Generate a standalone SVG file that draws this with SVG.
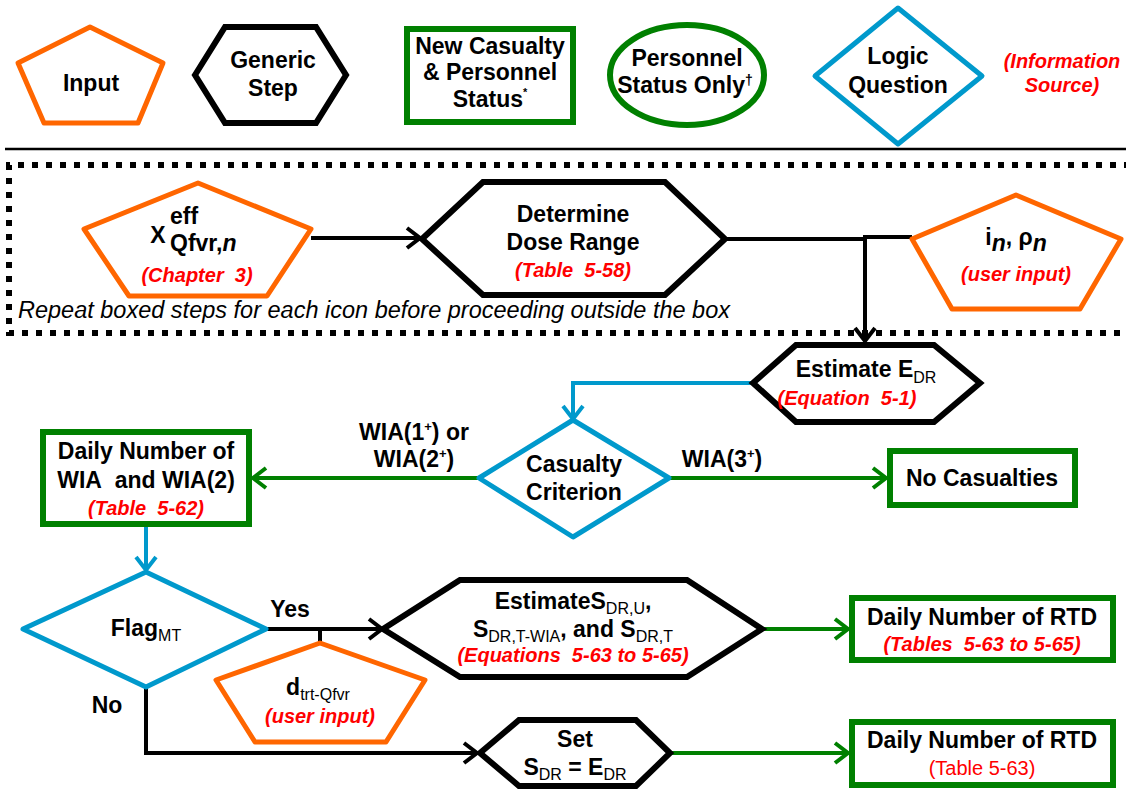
<svg xmlns="http://www.w3.org/2000/svg" width="1126" height="792" viewBox="0 0 1126 792">
<style>
text{font-family:"Liberation Sans",Arial,sans-serif;font-size:23px;font-weight:bold;fill:#000;text-anchor:middle}
.reg{font-weight:normal}
.red{fill:#FF0000;font-style:italic;font-size:20px}
.sub{font-size:16px;font-weight:normal}
.inp{fill:#fff;stroke:#FF6600;stroke-width:5;stroke-linejoin:round}
.step{fill:#fff;stroke:#000;stroke-width:6;stroke-linejoin:miter}
.cas{fill:#fff;stroke:#008000;stroke-width:6}
.q{fill:#fff;stroke:#0099CC;stroke-width:5;stroke-linejoin:round}
.ck{fill:none;stroke:#000;stroke-width:4}
.cg{fill:none;stroke:#008000;stroke-width:4}
.cb{fill:none;stroke:#0099CC;stroke-width:4}
</style>
<defs>
<marker id="ak" viewBox="-16 -12 18 24" refX="0" refY="0" markerWidth="18" markerHeight="24" markerUnits="userSpaceOnUse" orient="auto"><path d="M-13,-10 L0,0 L-13,10" fill="none" stroke="#000" stroke-width="4"/></marker>
<marker id="ag" viewBox="-16 -12 18 24" refX="0" refY="0" markerWidth="18" markerHeight="24" markerUnits="userSpaceOnUse" orient="auto"><path d="M-13,-10 L0,0 L-13,10" fill="none" stroke="#008000" stroke-width="4"/></marker>
<marker id="ab" viewBox="-16 -12 18 24" refX="0" refY="0" markerWidth="18" markerHeight="24" markerUnits="userSpaceOnUse" orient="auto"><path d="M-13,-10 L0,0 L-13,10" fill="none" stroke="#0099CC" stroke-width="4"/></marker>
</defs>
<rect width="1126" height="792" fill="#fff"/>

<g id="legend">
<g id="leg-input"><polygon class="inp" points="90,27 163,63 138,123 44,123 18,63"/><text x="91" y="91">Input</text></g>
<g id="leg-step"><polygon class="step" points="195,75 225,27 316,27 346,75 316,123 225,123"/><text x="273" y="68">Generic</text><text x="273" y="96">Step</text></g>
<g id="leg-cas"><rect class="cas" x="407" y="29" width="166" height="93"/><text x="490" y="54">New Casualty</text><text x="490" y="80">&amp; Personnel</text><text x="490" y="107">Status<tspan font-size="11" dy="-11">*</tspan></text></g>
<g id="leg-status"><ellipse cx="687" cy="75" rx="77" ry="50" fill="#fff" stroke="#008000" stroke-width="6"/><text x="687" y="66" font-size="21">Personnel</text><text x="685" y="93" font-size="21">Status Only<tspan font-size="14" dy="-8">†</tspan></text></g>
<g id="leg-q"><polygon class="q" points="898,8 982,76 898,144 815,76"/><text x="898" y="64">Logic</text><text x="898" y="93">Question</text></g>
<g id="leg-src"><text class="red" font-size="17" x="1062" y="68">(Information</text><text class="red" font-size="17" x="1062" y="92">Source)</text></g>
</g>

<line x1="5" y1="149" x2="1126" y2="149" stroke="#000" stroke-width="2.5"/>
<path d="M1130,165 H9 V333 H1130" fill="none" stroke="#000" stroke-width="6" stroke-dasharray="6 8"/>
<text class="reg" x="18" y="318" style="font-style:italic;text-anchor:start" font-size="22" textLength="712" lengthAdjust="spacingAndGlyphs">Repeat boxed steps for each icon before proceeding outside the box</text>

<g id="connectors">
<path class="ck" d="M311,238 H420" marker-end="url(#ak)"/>
<path class="ck" d="M725,239 H865 V341" marker-end="url(#ak)"/>
<path class="ck" d="M912,237 H863"/>
<path class="cb" d="M753,383 H573 V419" marker-end="url(#ab)"/>
<path class="cg" d="M479,478 H253" marker-end="url(#ag)"/>
<path class="cg" d="M669,478 H886" marker-end="url(#ag)"/>
<path class="cb" d="M146,527 V570" marker-end="url(#ab)"/>
<path class="ck" d="M266,629 H382" marker-end="url(#ak)"/>
<path class="ck" d="M320,629 V643"/>
<path class="ck" d="M146,687 V753 H477" marker-end="url(#ak)"/>
<path class="cg" d="M762,629 H848" marker-end="url(#ag)"/>
<path class="cg" d="M670,753 H848" marker-end="url(#ag)"/>
<text x="414" y="440">WIA(1<tspan font-size="13" dy="-9">+</tspan><tspan dy="9">) or</tspan></text>
<text x="414" y="467">WIA(2<tspan font-size="13" dy="-9">+</tspan><tspan dy="9">)</tspan></text>
<text x="722" y="467">WIA(3<tspan font-size="13" dy="-9">+</tspan><tspan dy="9">)</tspan></text>
<text x="290" y="617">Yes</text>
<text x="107" y="713">No</text>
</g>

<g id="n-xeff"><polygon class="inp" points="198,183 311,229 267,296 129,296 84,229"/>
<text x="158" y="243" font-size="23">X</text>
<text x="170" y="224" font-size="21" style="text-anchor:start">eff</text>
<text x="170" y="251" font-size="22" style="text-anchor:start">Qfvr,<tspan font-style="italic">n</tspan></text>
<text class="red" x="197" y="282">(Chapter&#160; 3)</text></g>

<g id="n-dose"><polygon class="step" points="422,239 483,182 665,182 725,239 665,295 483,295"/>
<text x="573" y="222">Determine</text><text x="573" y="250">Dose Range</text><text class="red" x="573" y="277">(Table&#160; 5-58)</text></g>

<g id="n-in"><polygon class="inp" points="1016,195 1121,239 1080,309 952,309 912,239"/>
<text x="1016" y="245">i<tspan font-style="italic" dy="6">n</tspan><tspan dy="-6">, ρ</tspan><tspan font-style="italic" dy="6">n</tspan></text>
<text class="red" x="1016" y="281">(user input)</text></g>

<g id="n-edr"><polygon class="step" points="753,383 796,345 934,345 980,383 934,422 796,422"/>
<text x="866" y="377">Estimate E<tspan class="sub" dy="6">DR</tspan></text>
<text class="red" x="847" y="405">(Equation&#160; 5-1)</text></g>

<g id="n-crit"><polygon class="q" points="573,420 669,478 573,537 479,478"/>
<text x="574" y="472">Casualty</text><text x="574" y="500">Criterion</text></g>

<g id="n-wia"><rect class="cas" x="43" y="432" width="206" height="92"/>
<text x="146" y="459">Daily Number of</text><text x="146" y="488">WIA&#160; and WIA(2)</text><text class="red" x="146" y="515">(Table&#160; 5-62)</text></g>

<g id="n-nocas"><rect class="cas" x="890" y="451" width="185" height="54"/><text x="982" y="486">No Casualties</text></g>

<g id="n-flag"><polygon class="q" points="146,572 266,629 146,687 23,629"/>
<text x="146" y="636">Flag<tspan class="sub" dy="5">MT</tspan></text></g>

<g id="n-dtrt"><polygon class="inp" points="320,643 425,680 386,742 255,742 216,680"/>
<text x="318" y="695">d<tspan class="sub" dy="5">trt-Qfvr</tspan></text>
<text class="red" x="320" y="723">(user input)</text></g>

<g id="n-sdr"><polygon class="step" points="383,629 460,580 687,580 762,629 687,677 460,677"/>
<text x="573" y="609">EstimateS<tspan class="sub" dy="5">DR,U</tspan><tspan dy="-5">,</tspan></text>
<text x="573" y="637">S<tspan class="sub" dy="5">DR,T-WIA</tspan><tspan dy="-5">, and S</tspan><tspan class="sub" dy="5">DR,T</tspan></text>
<text class="red" x="573" y="662">(Equations&#160; 5-63 to 5-65)</text></g>

<g id="n-set"><polygon class="step" points="480,753 519,720 636,720 670,753 636,786 519,786"/>
<text x="575" y="747">Set</text>
<text x="575" y="775">S<tspan class="sub" dy="5">DR</tspan><tspan dy="-5"> = E</tspan><tspan class="sub" dy="5">DR</tspan></text></g>

<g id="n-rtd1"><rect class="cas" x="852" y="598" width="261" height="62"/>
<text x="982" y="625">Daily Number of RTD</text><text class="red" x="982" y="651">(Tables&#160; 5-63 to 5-65)</text></g>

<g id="n-rtd2"><rect class="cas" x="852" y="722" width="261" height="63"/>
<text x="982" y="748">Daily Number of RTD</text><text class="red" x="982" y="775" style="font-style:normal;font-weight:normal">(Table 5-63)</text></g>
</svg>
